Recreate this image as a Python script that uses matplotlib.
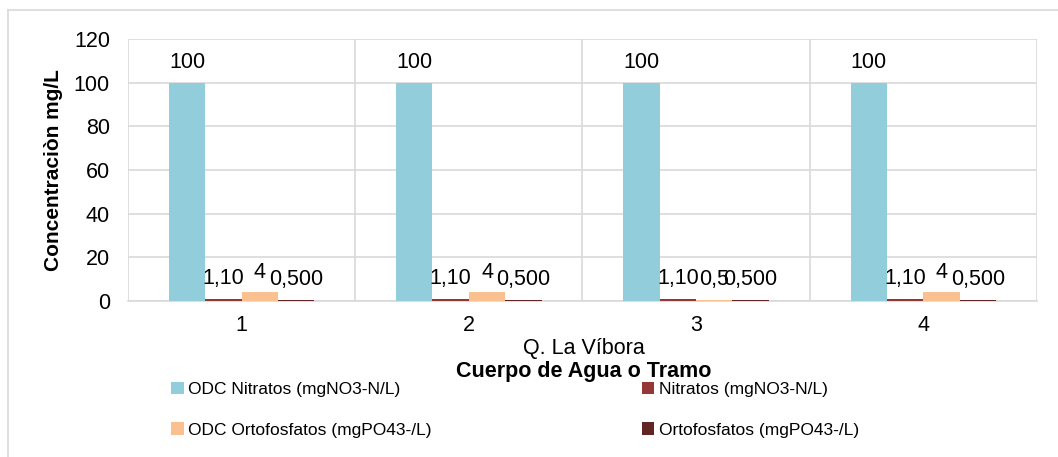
import matplotlib.pyplot as plt
import numpy as np

plt.rcParams["font.family"] = ["Liberation Sans", "DejaVu Sans"]

# Data
tramos = ["1", "2", "3", "4"]
series_names = [
    "ODC Nitratos (mgNO3-N/L)",
    "Nitratos (mgNO3-N/L)",
    "ODC Ortofosfatos (mgPO43-/L)",
    "Ortofosfatos (mgPO43-/L)",
]
odc_nitratos = [100, 100, 100, 100]
nitratos = [1.10, 1.10, 1.10, 1.10]
odc_ortofosfatos = [4, 4, 0.5, 4]
ortofosfatos = [0.5, 0.5, 0.5, 0.5]

lbl_odc_nitratos = ["100", "100", "100", "100"]
lbl_nitratos = ["1,10", "1,10", "1,10", "1,10"]
lbl_odc_ortofosfatos = ["4", "4", "0,5", "4"]
lbl_ortofosfatos = ["0,500", "0,500", "0,500", "0,500"]

colors = ["#92CDDC", "#953735", "#FAC090", "#632523"]
fs = 15.5

fig = plt.figure(figsize=(10.58, 4.57), dpi=100)
ax = fig.add_axes([0.121, 0.3414, 0.859, 0.5733])

x = np.arange(len(tramos))
width = 0.16
offsets = [-1.5 * width, -0.5 * width, 0.5 * width, 1.5 * width]
all_vals = [odc_nitratos, nitratos, odc_ortofosfatos, ortofosfatos]
all_lbls = [lbl_odc_nitratos, lbl_nitratos, lbl_odc_ortofosfatos, lbl_ortofosfatos]

handles = []
for vals, lbls, off, col, name in zip(all_vals, all_lbls, offsets, colors, series_names):
    bars = ax.bar(x + off, vals, width, color=col, label=name, zorder=3)
    handles.append(bars)
    ax.bar_label(bars, labels=lbls, padding=7, fontsize=fs, zorder=4)

ax.set_ylim(0, 120)
ax.set_yticks(range(0, 121, 20))
ax.set_xlim(-0.5, len(tramos) - 0.5)
ax.set_xticks(x)
ax.set_xticklabels(tramos)
ax.tick_params(axis="both", length=0, labelsize=fs)
ax.tick_params(axis="x", pad=10)
ax.tick_params(axis="y", pad=13)

# gridlines: horizontal at y ticks, vertical at category borders
ax.set_axisbelow(True)
ax.yaxis.grid(True, color="#D9D9D9", linewidth=1.2)
for b in np.arange(-0.5, len(tramos), 1.0):
    ax.axvline(b, color="#D9D9D9", linewidth=1.2, zorder=1)
for s in ["top", "right", "left"]:
    ax.spines[s].set_visible(False)
ax.spines["bottom"].set_color("#D9D9D9")
ax.spines["bottom"].set_linewidth(1.2)

ax.set_ylabel("Concentraciòn mg/L", fontsize=15, fontweight="bold")
ax.yaxis.set_label_coords(-0.0715, 0.5)
fig.text(0.552, 0.2385, "Q. La Víbora", ha="center", va="center", fontsize=fs)
fig.text(0.552, 0.188, "Cuerpo de Agua o Tramo", ha="center", va="center",
         fontsize=fs, fontweight="bold")

# legend in two rows, Excel style
leg_kw = dict(loc="upper left", frameon=False, fontsize=12.5,
              handlelength=0.7, handleheight=0.7, handletextpad=0.25,
              labelspacing=1.45, borderaxespad=0, borderpad=0)
fig.legend([handles[0], handles[2]], [series_names[0], series_names[2]],
           bbox_to_anchor=(0.162, 0.164), **leg_kw)
fig.legend([handles[1], handles[3]], [series_names[1], series_names[3]],
           bbox_to_anchor=(0.607, 0.164), **leg_kw)

# outer chart border
fig.add_artist(plt.Line2D([0.0076, 1.0], [0.978, 0.978], color="#D9D9D9", lw=1.2))
fig.add_artist(plt.Line2D([0.0076, 0.0076], [0.0, 0.978], color="#D9D9D9", lw=1.2))

fig.savefig("out.png", dpi=100)
